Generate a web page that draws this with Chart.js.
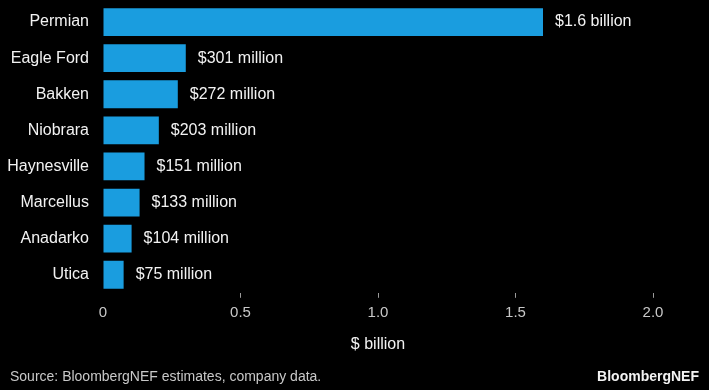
<!DOCTYPE html>
<html>
<head>
<meta charset="utf-8">
<script src="https://cdn.jsdelivr.net/npm/chart.js@4"></script>
<style>
  html, body { margin: 0; padding: 0; background: #000; }
  .wrap { position: relative; width: 709px; height: 390px; }
</style>
</head>
<body>
<div class="wrap"><canvas id="chart" width="709" height="390"></canvas></div>
<script>
const basins = ["Permian", "Eagle Ford", "Bakken", "Niobrara", "Haynesville", "Marcellus", "Anadarko", "Utica"];
const spend = [1.6, 0.301, 0.272, 0.203, 0.151, 0.133, 0.104, 0.075];
const spendLabels = ["$1.6 billion", "$301 million", "$272 million", "$203 million", "$151 million", "$133 million", "$104 million", "$75 million"];
const xTicks = [0, 0.5, 1.0, 1.5, 2.0];

const FONT = "'Liberation Sans', Arial, sans-serif";

// value labels at the end of each bar + footer text
const labelsPlugin = {
    id: "labels",
    afterDatasetsDraw(chart) {
        const ctx = chart.ctx;
        const meta = chart.getDatasetMeta(0);
        ctx.save();
        ctx.font = "16px " + FONT;
        ctx.fillStyle = "#f2f2f2";
        ctx.textBaseline = "middle";
        ctx.textAlign = "left";
        meta.data.forEach((bar, i) => {
            ctx.fillText(spendLabels[i], bar.x + 12, bar.y);
        });
        ctx.restore();
    },
    afterDraw(chart) {
        const ctx = chart.ctx;
        ctx.save();
        ctx.textBaseline = "middle";
        ctx.font = "14px " + FONT;
        ctx.fillStyle = "#c8c8c8";
        ctx.textAlign = "left";
        ctx.fillText("Source: BloombergNEF estimates, company data.", 10, 377);
        ctx.font = "bold 14px " + FONT;
        ctx.fillStyle = "#f2f2f2";
        ctx.textAlign = "right";
        ctx.fillText("BloombergNEF", 699, 377);
        ctx.restore();
    }
};

new Chart(document.getElementById("chart"), {
    type: "bar",
    data: {
        labels: basins,
        datasets: [
            {
                data: spend,
                backgroundColor: "#1a9ddf",
                borderWidth: 0,
                categoryPercentage: 1,
                barPercentage: 0.77,
            },
        ],
    },
    options: {
        indexAxis: "y",
        responsive: false,
        animation: false,
        layout: {
            padding: { top: 4, right: 56, bottom: 36, left: 0 },
        },
        plugins: {
            legend: { display: false },
            tooltip: { enabled: false },
        },
        scales: {
            y: {
                afterFit: (scale) => {
                    scale.width = 103;
                    scale.paddingTop = 0;
                    scale.paddingBottom = 0;
                },
                grid: { display: false },
                border: { display: false },
                ticks: {
                    color: "#f2f2f2",
                    padding: 6,
                    font: { family: FONT, size: 16 },
                },
            },
            x: {
                min: 0,
                max: 2,
                afterBuildTicks: (scale) => {
                    scale.ticks = xTicks.map((v) => ({ value: v }));
                },
                border: { display: false },
                grid: {
                    drawOnChartArea: false,
                    tickLength: 5,
                    tickWidth: 1,
                    tickColor: (c) => (c.index === 0 ? "rgba(0,0,0,0)" : "#9a9a9a"),
                },
                ticks: {
                    color: "#c8c8c8",
                    padding: 6,
                    font: { family: FONT, size: 15 },
                    callback: (v) => (v === 0 ? "0" : v.toFixed(1)),
                },
                title: {
                    display: true,
                    text: "$ billion",
                    color: "#f2f2f2",
                    font: { family: FONT, size: 16 },
                    padding: { top: 7, bottom: 0 },
                },
            },
        },
    },
    plugins: [labelsPlugin],
});
</script>
</body>
</html>
